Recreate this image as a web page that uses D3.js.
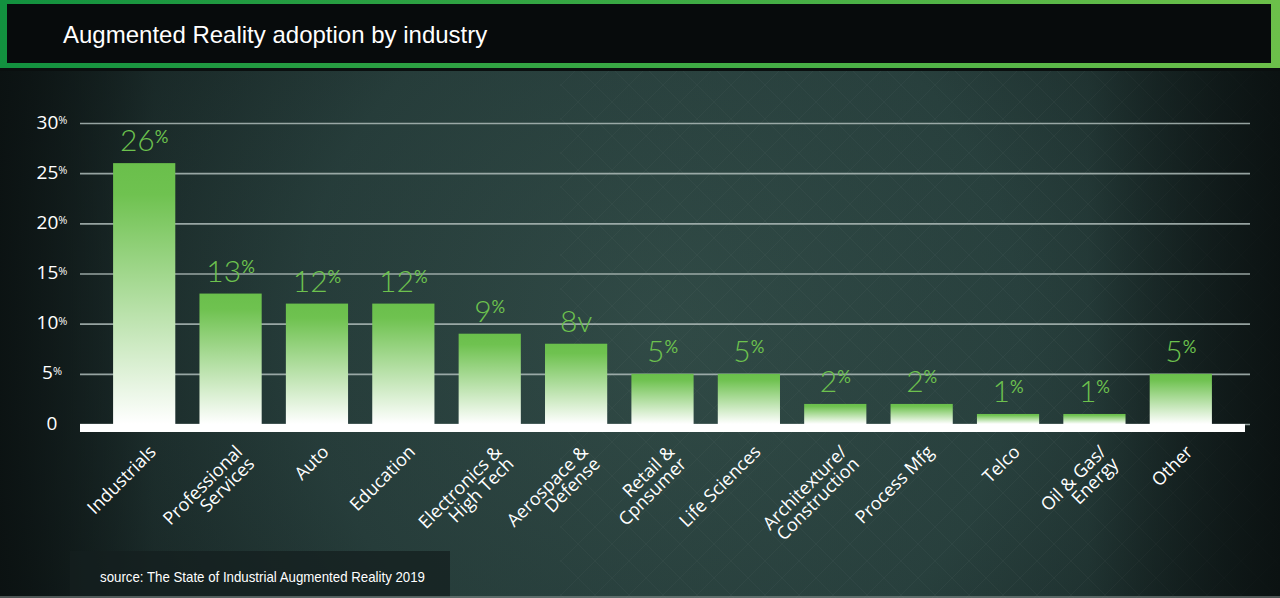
<!DOCTYPE html>
<html>
<head>
<meta charset="utf-8">
<script src="https://cdn.jsdelivr.net/npm/d3@7"></script>
<style>
  html, body { margin: 0; padding: 0; background: #0c1212; }
  svg { display: block; }
</style>
</head>
<body>
<div id="chart"></div>
<script>
// data
const categories = ["Industrials", "Professional\nServices", "Auto", "Education",
    "Electronics &\nHigh Tech", "Aerospace &\nDefense", "Retail &\nCpnsumer",
    "Life Sciences", "Architexture/\nConstruction", "Process Mfg", "Telco",
    "Oil & Gas/\nEnergy", "Other"];
const values = [26, 13, 12, 12, 9, 8, 5, 5, 2, 2, 1, 1, 5];
const valueLabels = ["26%", "13%", "12%", "12%", "9%", "8v", "5%", "5%", "2%", "2%", "1%", "1%", "5%"];
const yTicks = [0, 5, 10, 15, 20, 25, 30];
const yTickLabels = ["0", "5%", "10%", "15%", "20%", "25%", "30%"];

const W = 1280, H = 598;
const plot = { left: 80, right: 1250, top: 123, bottom: 424 };

const svg = d3.select("#chart").append("svg")
    .attr("width", W)
    .attr("height", H);

const defs = svg.append("defs");

// background
const bg = defs.append("radialGradient")
    .attr("id", "bg")
    .attr("gradientUnits", "userSpaceOnUse")
    .attr("cx", 660).attr("cy", 330).attr("r", 800);
bg.append("stop").attr("offset", "0").attr("stop-color", "#37544f");
bg.append("stop").attr("offset", "0.45").attr("stop-color", "#2c4643");
bg.append("stop").attr("offset", "0.8").attr("stop-color", "#182726");
bg.append("stop").attr("offset", "1").attr("stop-color", "#0b1111");

const sideShade = defs.append("linearGradient").attr("id", "sideShade");
sideShade.append("stop").attr("offset", "0").attr("stop-color", "#0a1010").attr("stop-opacity", 0.85);
sideShade.append("stop").attr("offset", "0.12").attr("stop-color", "#0a1010").attr("stop-opacity", 0.2);
sideShade.append("stop").attr("offset", "0.85").attr("stop-color", "#0a1010").attr("stop-opacity", 0.1);
sideShade.append("stop").attr("offset", "1").attr("stop-color", "#0a1010").attr("stop-opacity", 0.9);

const hatch = defs.append("pattern")
    .attr("id", "hatch")
    .attr("patternUnits", "userSpaceOnUse")
    .attr("width", 34).attr("height", 34);
hatch.append("path")
    .attr("d", "M0,0L34,34M34,0L0,34")
    .attr("stroke", "#ffffff")
    .attr("stroke-opacity", 0.035)
    .attr("stroke-width", 1);

// title frame
const frame = defs.append("linearGradient").attr("id", "frame");
frame.append("stop").attr("offset", "0").attr("stop-color", "#12913f");
frame.append("stop").attr("offset", "0.5").attr("stop-color", "#3aa944");
frame.append("stop").attr("offset", "1").attr("stop-color", "#6cc04a");

// bars
const barFill = defs.append("linearGradient")
    .attr("id", "barFill")
    .attr("x1", 0).attr("y1", 0).attr("x2", 0).attr("y2", 1);
barFill.append("stop").attr("offset", "0").attr("stop-color", "#6abf4b");
barFill.append("stop").attr("offset", "0.12").attr("stop-color", "#6fc250");
barFill.append("stop").attr("offset", "1").attr("stop-color", "#ffffff");

svg.append("rect").attr("width", W).attr("height", H).attr("fill", "url(#bg)");
svg.append("rect").attr("x", 560).attr("y", 70).attr("width", 720).attr("height", H - 70)
    .attr("fill", "url(#hatch)");
svg.append("rect").attr("width", W).attr("height", H).attr("fill", "url(#sideShade)");

svg.append("rect").attr("x", 0).attr("y", 0).attr("width", W).attr("height", 68)
    .attr("fill", "url(#frame)");
svg.append("rect").attr("x", 7).attr("y", 4).attr("width", 1264).attr("height", 59)
    .attr("fill", "#070b0c");
svg.append("rect").attr("x", 0).attr("y", 68).attr("width", W).attr("height", 3)
    .attr("fill", "#0a0f0f");

svg.append("text")
    .attr("x", 63).attr("y", 43)
    .attr("fill", "#ffffff")
    .style("font-family", "'Liberation Sans', Arial, sans-serif")
    .style("font-size", "24px")
    .text("Augmented Reality adoption by industry");

// scales
const x = d3.scaleBand()
    .domain(categories)
    .range([101, 1224])
    .paddingInner(0.28)
    .paddingOuter(0.14);

const y = d3.scaleLinear()
    .domain([0, 30])
    .range([plot.bottom, plot.top]);

// y axis with gridlines
const yAxis = svg.append("g")
    .attr("transform", `translate(${plot.left},0)`)
    .call(d3.axisLeft(y)
        .tickValues(yTicks)
        .tickSize(-(plot.right - plot.left))
        .tickFormat((d, i) => yTickLabels[i]));

yAxis.select(".domain").remove();
yAxis.selectAll(".tick line")
    .attr("stroke", "#aebbb8")
    .attr("stroke-opacity", 0.85)
    .attr("stroke-width", 1.6);

yAxis.selectAll(".tick text")
    .attr("x", -28)
    .attr("dy", "0.27em")
    .attr("text-anchor", "middle")
    .attr("fill", "#ffffff")
    .style("font-family", "'Open Sans', sans-serif")
    .style("font-size", "19px")
    .each(function (d, i) {
        const t = d3.select(this);
        const lab = yTickLabels[i];
        t.text(null);
        if (lab.endsWith("%")) {
            t.append("tspan").text(lab.slice(0, -1));
            t.append("tspan")
                .attr("dy", "-0.42em")
                .style("font-size", "11px")
                .text("%");
        } else {
            t.text(lab);
        }
    });

// bars
svg.selectAll(".bar")
    .data(values)
    .enter()
    .append("rect")
    .attr("class", "bar")
    .attr("x", (d, i) => x(categories[i]))
    .attr("y", d => y(d))
    .attr("width", x.bandwidth())
    .attr("height", d => y(0) - y(d))
    .attr("fill", "url(#barFill)");

// white baseline
svg.append("rect")
    .attr("x", plot.left)
    .attr("y", y(0))
    .attr("width", 1245 - plot.left)
    .attr("height", 8)
    .attr("fill", "#ffffff");

// value labels
svg.selectAll(".val")
    .data(values)
    .enter()
    .append("text")
    .attr("class", "val")
    .attr("x", (d, i) => x(categories[i]) + x.bandwidth() / 2)
    .attr("y", d => y(d) - 12)
    .attr("text-anchor", "middle")
    .attr("fill", "#6dc24e")
    .style("font-family", "Lato, 'Open Sans', sans-serif")
    .style("font-weight", 300)
    .style("font-size", "30px")
    .each(function (d, i) {
        const t = d3.select(this);
        const lab = valueLabels[i];
        if (lab.endsWith("%")) {
            t.append("tspan").text(lab.slice(0, -1));
            t.append("tspan")
                .attr("dy", "-0.5em")
                .style("font-size", "17px")
                .style("font-weight", 400)
                .text("%");
        } else {
            t.text(lab);
        }
    });

// category labels, rotated, lines right-aligned
const lineH = 17;
svg.selectAll(".cat")
    .data(categories)
    .enter()
    .append("g")
    .attr("class", "cat")
    .attr("transform", d => `translate(${x(d) + x.bandwidth() / 2 + 13},${y(0) + 29}) rotate(-45)`)
    .each(function (d) {
        const g = d3.select(this);
        d.split("\n").forEach((ln, i) => g.append("text")
            .attr("x", 0)
            .attr("y", i * lineH)
            .attr("text-anchor", "end")
            .attr("fill", "#ffffff")
            .style("font-family", "'Open Sans', sans-serif")
            .style("font-size", "18px")
            .text(ln));
    });

// source box
svg.append("rect")
    .attr("x", 70).attr("y", 551)
    .attr("width", 380).attr("height", 46)
    .attr("fill", "#141f1f")
    .attr("fill-opacity", 0.75);

svg.append("text")
    .attr("x", 100).attr("y", 582)
    .attr("fill", "#ffffff")
    .attr("textLength", 325)
    .attr("lengthAdjust", "spacingAndGlyphs")
    .style("font-family", "'Liberation Sans Narrow', 'Liberation Sans', Arial, sans-serif")
    .style("font-size", "15px")
    .text("source: The State of Industrial Augmented Reality 2019");

svg.append("rect").attr("x", 0).attr("y", 596).attr("width", W).attr("height", 2)
    .attr("fill", "#8f9a98").attr("fill-opacity", 0.5);
</script>
</body>
</html>
